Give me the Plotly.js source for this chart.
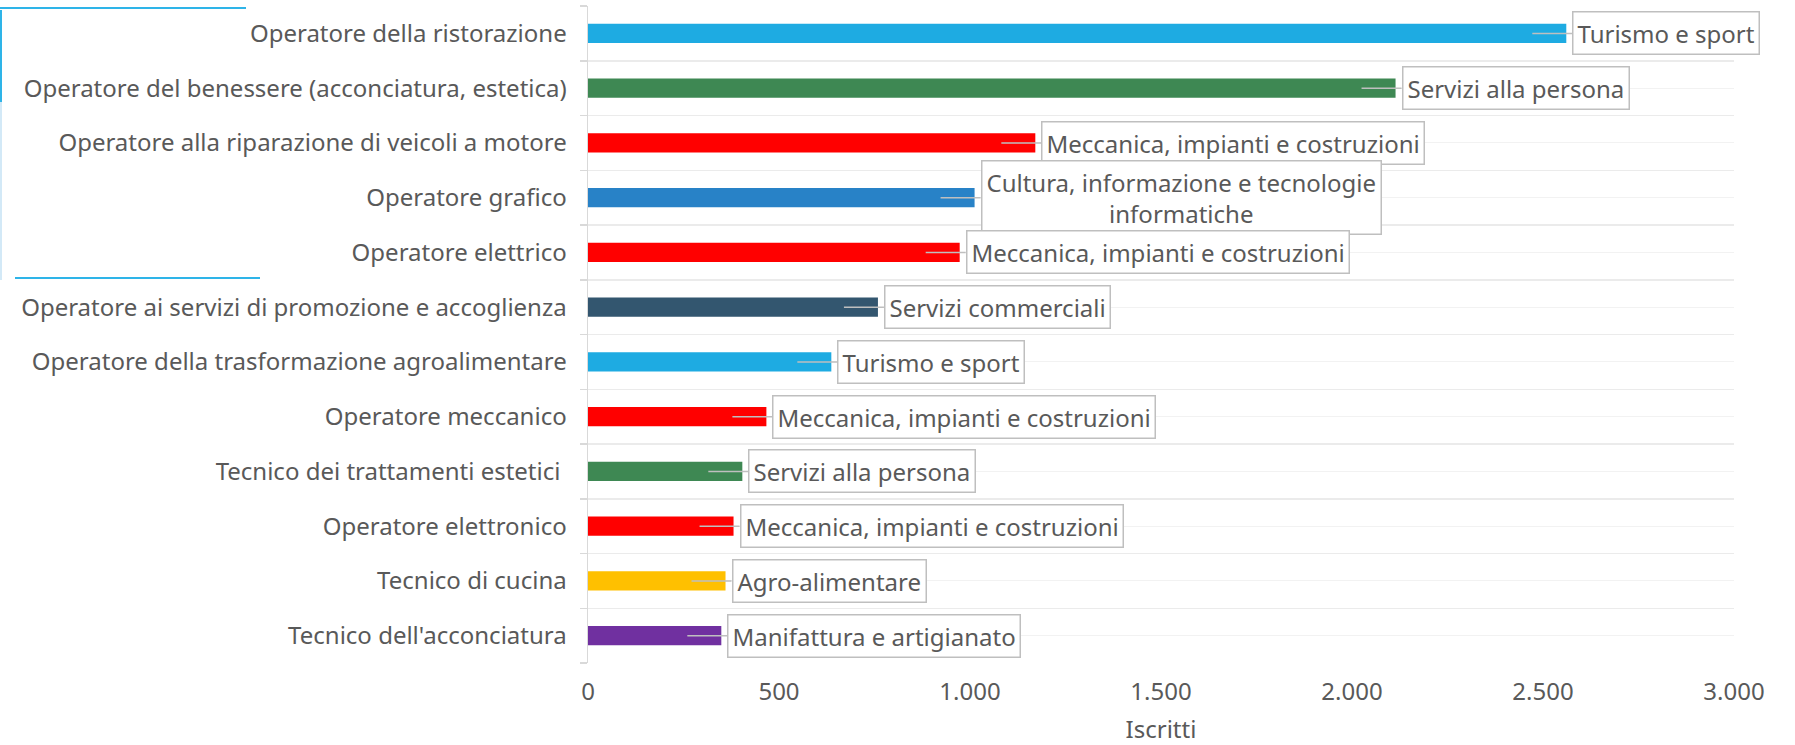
<!DOCTYPE html>
<html>
<head>
<meta charset="utf-8">
<script src="https://cdn.plot.ly/plotly-3.0.1.min.js"></script>
<style>
  html, body { margin: 0; padding: 0; background: #ffffff; }
  #chart { width: 1795px; height: 745px; position: relative; }
  .deco { position: absolute; pointer-events: none; }
</style>
</head>
<body>
<div id="chart"></div>
<div class="deco" style="left:0px; top:7px; width:246px; height:2px; background:#2EB4E8;"></div>
<div class="deco" style="left:0px; top:10px; width:2px; height:92px; background:#2EB4E8;"></div>
<div class="deco" style="left:0px; top:102px; width:2px; height:178px; background:#D3E9F7;"></div>
<div class="deco" style="left:15px; top:277px; width:245px; height:2px; background:#2EB4E8;"></div>
<script>
// Profili formativi (top to bottom)
const categories = [
  "Operatore della ristorazione",
  "Operatore del benessere (acconciatura, estetica)",
  "Operatore alla riparazione di veicoli a motore",
  "Operatore grafico",
  "Operatore elettrico",
  "Operatore ai servizi di promozione e accoglienza",
  "Operatore della trasformazione agroalimentare",
  "Operatore meccanico",
  "Tecnico dei trattamenti estetici ",
  "Operatore elettronico",
  "Tecnico di cucina",
  "Tecnico dell'acconciatura"
];
// Iscritti
const iscritti = [2561, 2114, 1171, 1012, 973, 759, 637, 467, 404, 381, 360, 349];
// Settore
const settori = [
  "Turismo e sport",
  "Servizi alla persona",
  "Meccanica, impianti e costruzioni",
  "Cultura, informazione e tecnologie<br>informatiche",
  "Meccanica, impianti e costruzioni",
  "Servizi commerciali",
  "Turismo e sport",
  "Meccanica, impianti e costruzioni",
  "Servizi alla persona",
  "Meccanica, impianti e costruzioni",
  "Agro-alimentare",
  "Manifattura e artigianato"
];
const sectorNames = ["Turismo e sport", "Servizi alla persona", "Meccanica, impianti e costruzioni",
  "Cultura, informazione e tecnologie<br>informatiche", "Servizi commerciali", "Agro-alimentare", "Manifattura e artigianato"];
const sectorColors = ["#1EABE2", "#3E8853", "#FF0000", "#2882C7", "#33566F", "#FFC000", "#7030A0"];
const xTicks = [0, 500, 1000, 1500, 2000, 2500, 3000];

const colorOf = s => sectorColors[sectorNames.indexOf(s)];
const idx = categories.map((c, i) => i);
const boundaries = categories.map((c, i) => i - 0.5).concat([categories.length - 0.5]);

const FONT = "'Noto Sans', Lato, sans-serif";
const TXT = "#595959";
const FS = 24;

const trace = {
  type: "bar",
  orientation: "h",
  x: iscritti,
  y: idx,
  marker: { color: settori.map(colorOf), line: { width: 0 } },
  hoverinfo: "x+text",
  text: categories,
  textposition: "none"
};

const annotations = settori.map((s, i) => ({
  x: iscritti[i],
  y: i,
  xref: "x",
  yref: "y",
  text: s,
  align: "center",
  showarrow: true,
  arrowhead: 0,
  arrowwidth: 1.5,
  arrowcolor: "#BFBFBF",
  ax: 40,
  ay: 0,
  xshift: -34,
  xanchor: "left",
  yanchor: "middle",
  bgcolor: "#FFFFFF",
  bordercolor: "#BFBFBF",
  borderwidth: 1.5,
  borderpad: 4,
  font: { family: FONT, size: FS, color: TXT }
}));

const layout = {
  width: 1795,
  height: 745,
  margin: { l: 588, r: 61, t: 6, b: 82 },
  paper_bgcolor: "#FFFFFF",
  plot_bgcolor: "#FFFFFF",
  separators: ",.",
  showlegend: false,
  bargap: 0.65,
  font: { family: FONT, size: FS, color: TXT },
  xaxis: {
    range: [0, 3000],
    tickvals: xTicks,
    tickformat: ",d",
    showgrid: false,
    zeroline: false,
    showline: false,
    ticks: "",
    ticklabelstandoff: 12,
    tickfont: { family: FONT, size: FS, color: TXT },
    title: { text: "Iscritti", font: { family: FONT, size: FS, color: TXT }, standoff: 16 }
  },
  yaxis: {
    range: [categories.length - 0.5, -0.5],
    tickvals: idx,
    ticktext: categories,
    showgrid: true,
    gridcolor: "#F2F2F2",
    gridwidth: 1,
    zeroline: false,
    showline: true,
    linecolor: "#D9D9D9",
    linewidth: 1.5,
    ticks: "",
    ticklabelstandoff: 15,
    tickfont: { family: FONT, size: FS, color: TXT },
    minor: {
      tickvals: boundaries,
      showgrid: true,
      gridcolor: "#EBEBEB",
      gridwidth: 1.5,
      ticks: "outside",
      ticklen: 7,
      tickcolor: "#D9D9D9",
      tickwidth: 1.5
    }
  },
  annotations: annotations
};

Plotly.newPlot("chart", [trace], layout, { displayModeBar: false, staticPlot: true });
</script>
</body>
</html>
